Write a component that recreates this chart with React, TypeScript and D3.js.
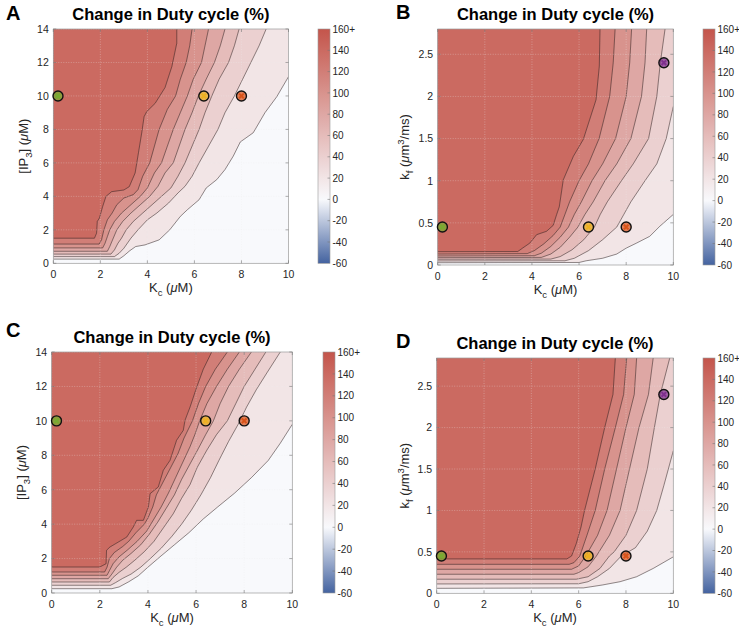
import React from "react";
import * as d3 from "d3";

type Pt = [number, number];

// ---------- shared values ----------
const LEVELS = [20, 40, 60, 80, 100, 120, 140];
const CB_TICKS = [160, 140, 120, 100, 80, 60, 40, 20, 0, -20, -40, -60];
const CB_LABELS = ["160+", "140", "120", "100", "80", "60", "40", "20", "0", "-20", "-40", "-60"];
const CB_MIN = -60;
const CB_MAX = 160;
const KC_TICKS = [0, 2, 4, 6, 8, 10];
const IP3_TICKS = [0, 2, 4, 6, 8, 10, 12, 14];
const KF_TICKS = [0, 0.5, 1, 1.5, 2, 2.5];
const KF_LABELS = ["0", "0.5", "1", "1.5", "2", "2.5"];

const MARKER_COLORS = ["#77ac30", "#edb120", "#d95319", "#7e2f8e"];
const MARK_KC = [0.2, 6.4, 8.0];
const MARK_IP3 = [10, 10, 10];
const MARK_KC_KF = [0.2, 6.4, 8.0, 9.6];
const MARK_KF = [0.45, 0.45, 0.45, 2.4];

// ---------- contour lines, panel A (Kc vs IP3) ----------
const A20: Pt[] = [[0,0.25],[2.8,0.25],[3.0,0.45],[3.25,0.75],[3.5,1.0],[3.9,1.1],[4.5,1.4],[4.95,2.0],[5.4,2.8],[5.7,3.2],[6.2,3.8],[6.5,4.5],[6.95,5.0],[7.3,5.6],[7.65,6.4],[7.95,7.25],[8.5,7.8],[9.0,9.0],[9.5,9.95],[10,11.15]];
const A40: Pt[] = [[0,0.4],[2.6,0.4],[2.8,0.6],[3.0,0.9],[3.3,1.5],[3.6,2.0],[4.0,2.6],[4.4,3.0],[4.9,3.6],[5.3,4.2],[5.6,4.6],[5.9,5.2],[6.2,6.0],[6.6,7.0],[7.0,8.0],[7.3,9.0],[7.7,10.0],[8.05,11.0],[8.4,12.0],[8.75,13.0],[9.05,14]];
const A60: Pt[] = [[0,0.55],[2.45,0.55],[2.6,0.8],[2.75,1.2],[2.9,1.5],[3.1,2.0],[3.4,2.5],[3.8,3.0],[4.2,3.5],[4.6,4.0],[5.0,4.5],[5.3,5.2],[5.6,6.0],[5.9,7.0],[6.2,8.0],[6.45,9.0],[6.74,10.0],[7.05,11.0],[7.45,12.0],[7.7,13.0],[7.9,14]];
const A80: Pt[] = [[0,0.72],[2.3,0.72],[2.4,1.0],[2.55,1.5],[2.7,2.0],[2.95,2.5],[3.3,3.0],[3.7,3.5],[4.1,4.0],[4.45,4.6],[4.75,5.4],[5.1,6.0],[5.35,7.0],[5.6,8.0],[5.9,9.0],[6.17,10.0],[6.5,11.0],[6.85,12.0],[7.1,13.0],[7.3,14]];
const A100: Pt[] = [[0,0.92],[2.1,0.92],[2.2,1.2],[2.3,1.6],[2.4,2.0],[2.6,2.5],[2.9,3.0],[3.3,3.5],[3.7,4.0],[4.0,4.5],[4.3,5.4],[4.6,6.0],[4.85,7.0],[5.1,8.0],[5.4,9.0],[5.7,10.0],[5.95,11.0],[6.3,12.0],[6.45,13.0],[6.6,14]];
const A120: Pt[] = [[0,1.15],[1.95,1.15],[2.05,1.4],[2.15,2.0],[2.3,2.6],[2.5,3.0],[2.7,3.5],[3.0,3.9],[3.4,4.1],[3.6,4.4],[3.8,5.2],[4.1,6.0],[4.3,7.0],[4.5,8.0],[4.85,9.2],[5.2,10.0],[5.4,11.0],[5.65,12.0],[5.8,13.0],[5.9,14]];
const A140: Pt[] = [[0,1.5],[1.75,1.5],[1.84,1.8],[1.87,2.5],[1.96,2.7],[2.1,3.4],[2.24,4.0],[2.48,4.28],[3.0,4.38],[3.23,4.58],[3.48,5.4],[3.62,6.6],[3.76,7.8],[3.86,8.76],[3.97,9.06],[4.33,9.56],[4.75,10.5],[5.04,11.75],[5.25,13.15],[5.25,14]];

// ---------- panel B (Kc vs kf) ----------
const B20: Pt[] = [[0,0.027],[6.0,0.03],[6.3,0.05],[7.0,0.08],[7.6,0.13],[8.0,0.2],[8.44,0.26],[9.0,0.34],[9.43,0.46],[10,0.6]];
const B40: Pt[] = [[0,0.048],[5.4,0.05],[5.8,0.08],[6.4,0.17],[7.0,0.3],[7.6,0.45],[7.9,0.6],[8.2,0.75],[8.8,1.0],[9.3,1.2],[9.7,1.5],[10,1.88]];
const B60: Pt[] = [[0,0.068],[4.8,0.07],[5.2,0.1],[5.7,0.18],[6.2,0.3],[6.65,0.45],[6.9,0.6],[7.2,0.75],[7.8,1.0],[8.3,1.2],[8.95,1.5],[9.3,2.0],[9.45,2.4],[9.65,2.8]];
const B80: Pt[] = [[0,0.087],[4.4,0.09],[4.8,0.13],[5.2,0.21],[5.6,0.33],[5.95,0.45],[6.25,0.6],[6.6,0.75],[7.1,1.0],[7.6,1.2],[8.2,1.5],[8.65,2.0],[8.8,2.4],[8.87,2.8]];
const B100: Pt[] = [[0,0.107],[4.1,0.11],[4.4,0.14],[4.8,0.22],[5.2,0.33],[5.55,0.45],[5.8,0.6],[6.1,0.75],[6.55,1.0],[7.0,1.2],[7.55,1.5],[8.0,2.0],[8.15,2.4],[8.23,2.8]];
const B120: Pt[] = [[0,0.13],[3.8,0.135],[4.1,0.17],[4.5,0.25],[4.9,0.35],[5.2,0.45],[5.4,0.6],[5.6,0.75],[6.0,1.0],[6.4,1.2],[6.85,1.5],[7.3,2.0],[7.45,2.4],[7.53,2.8]];
const B140: Pt[] = [[0,0.158],[3.4,0.16],[3.6,0.2],[3.91,0.26],[4.2,0.36],[4.62,0.4],[4.9,0.47],[5.05,0.6],[5.16,0.69],[5.33,1.01],[5.76,1.29],[6.18,1.49],[6.72,1.96],[6.86,2.36],[6.89,2.8]];

// ---------- panel C (Kc vs IP3) ----------
const C20: Pt[] = [[0,0.25],[2.5,0.25],[2.8,0.35],[3.2,0.65],[3.6,1.0],[4.0,1.5],[4.5,2.1],[5.1,2.8],[5.7,3.5],[6.3,4.3],[6.9,5.0],[7.6,5.8],[8.3,6.7],[9.0,7.7],[9.5,8.7],[10,9.8]];
const C40: Pt[] = [[0,0.45],[2.45,0.45],[2.65,0.6],[2.95,0.85],[3.3,1.1],[3.7,1.5],[4.1,2.0],[4.55,2.6],[5.0,3.3],[5.4,4.0],[5.8,4.8],[6.2,5.7],[6.6,6.7],[6.95,7.7],[7.35,8.8],[7.75,9.8],[8.1,10.8],[8.5,11.8],[8.95,12.8],[9.5,14]];
const C60: Pt[] = [[0,0.64],[2.4,0.64],[2.55,0.9],[2.8,1.2],[3.1,1.5],[3.45,1.9],[3.85,2.4],[4.25,3.0],[4.65,3.8],[5.05,4.6],[5.4,5.5],[5.75,6.3],[6.05,7.3],[6.45,8.3],[6.85,9.2],[7.3,10.0],[7.65,11.0],[8.0,12.0],[8.45,13.0],[8.9,14]];
const C80: Pt[] = [[0,0.83],[2.35,0.83],[2.5,1.1],[2.7,1.5],[2.95,1.9],[3.3,2.3],[3.7,2.8],[4.05,3.4],[4.4,4.1],[4.75,4.9],[5.1,5.7],[5.4,6.6],[5.75,7.5],[6.1,8.4],[6.4,9.2],[6.72,10.0],[7.0,11.0],[7.35,12.0],[7.8,13.0],[8.3,14]];
const C100: Pt[] = [[0,1.03],[2.3,1.03],[2.4,1.3],[2.55,1.7],[2.8,2.1],[3.15,2.5],[3.55,3.0],[3.95,3.6],[4.25,4.3],[4.55,5.0],[4.85,5.8],[5.15,6.7],[5.45,7.6],[5.75,8.5],[5.95,9.2],[6.15,10.0],[6.45,11.0],[6.85,12.0],[7.3,13.0],[7.8,14]];
const C120: Pt[] = [[0,1.22],[2.2,1.22],[2.3,1.5],[2.4,2.0],[2.6,2.35],[2.95,2.7],[3.2,3.0],[3.5,3.5],[3.85,4.0],[4.0,4.35],[4.2,5.0],[4.35,5.7],[4.65,6.5],[4.95,7.3],[5.25,8.1],[5.5,9.0],[5.85,10.0],[6.1,11.0],[6.4,12.0],[6.8,13.0],[7.3,14]];
const C140: Pt[] = [[0,1.51],[2.0,1.51],[2.26,1.7],[2.28,2.48],[2.42,2.67],[3.12,3.25],[3.39,3.83],[3.53,4.22],[3.81,4.22],[4.02,5.0],[4.09,5.77],[4.43,6.16],[4.64,7.13],[4.92,7.71],[5.19,8.87],[5.47,9.45],[5.54,10.03],[5.75,10.8],[6.03,11.97],[6.3,13.0],[6.65,14]];

// ---------- panel D (Kc vs kf) ----------
const D20: Pt[] = [[0,0.06],[6.2,0.065],[7.0,0.1],[7.75,0.14],[8.45,0.2],[9.15,0.3],[10,0.44]];
const D40: Pt[] = [[0,0.113],[6.0,0.115],[6.4,0.14],[6.8,0.2],[7.3,0.3],[7.8,0.45],[8.4,0.55],[8.9,0.75],[9.3,1.0],[9.6,1.3],[10,1.72]];
const D60: Pt[] = [[0,0.17],[5.9,0.17],[6.4,0.2],[6.9,0.3],[7.3,0.45],[7.5,0.5],[8.0,0.7],[8.45,1.0],[8.9,1.5],[9.2,2.0],[9.45,2.4],[9.85,2.84]];
const D80: Pt[] = [[0,0.23],[5.8,0.23],[6.0,0.25],[6.4,0.32],[6.75,0.45],[7.3,0.7],[7.75,1.0],[8.15,1.5],[8.55,2.0],[8.95,2.4],[9.15,2.84]];
const D100: Pt[] = [[0,0.29],[5.7,0.29],[6.0,0.33],[6.3,0.45],[6.8,0.7],[7.2,1.0],[7.6,1.5],[8.0,2.0],[8.35,2.4],[8.45,2.84]];
const D120: Pt[] = [[0,0.35],[5.6,0.35],[5.8,0.37],[6.05,0.45],[6.35,0.7],[6.7,1.0],[7.1,1.5],[7.55,2.0],[7.9,2.4],[8.03,2.84]];
const D140: Pt[] = [[0,0.415],[5.5,0.415],[5.7,0.45],[5.9,0.6],[6.1,0.8],[6.25,1.0],[6.7,1.5],[7.1,2.0],[7.45,2.4],[7.55,2.84]];

const FONT = "'Liberation Sans', Arial, Helvetica, sans-serif";
const TXT = "#262626";

const cmap = d3
  .scaleLinear<string>()
  .domain([-60, 0, 160])
  .range(["#4463a0", "#f8f9fc", "#c4554b"])
  .interpolate(d3.interpolateRgb);

type PanelCfg = {
  id: string;
  letter: string;
  left: number; right: number; top: number; bottom: number;
  yMax: number;
  yTicks: number[];
  yTickLabels: string[];
  yLabel: "ip3" | "kf";
  yLabelX: number;
  titleY: number;
  letterX: number; letterY: number;
  cbX: number;
  lines: Pt[][];
  mx: number[]; my: number[];
};

const PANELS: PanelCfg[] = [
  { id: "A", letter: "A", left: 53.3, right: 288.5, top: 29, bottom: 263.3, yMax: 14,
    yTicks: IP3_TICKS, yTickLabels: IP3_TICKS.map(String), yLabel: "ip3", yLabelX: 28,
    titleY: 20, letterX: 6, letterY: 19.5, cbX: 318,
    lines: [A20, A40, A60, A80, A100, A120, A140], mx: MARK_KC, my: MARK_IP3 },
  { id: "B", letter: "B", left: 437.7, right: 673.3, top: 29, bottom: 265, yMax: 2.8,
    yTicks: KF_TICKS, yTickLabels: KF_LABELS, yLabel: "kf", yLabelX: 409,
    titleY: 20, letterX: 396, letterY: 18.5, cbX: 703,
    lines: [B20, B40, B60, B80, B100, B120, B140], mx: MARK_KC_KF, my: MARK_KF },
  { id: "C", letter: "C", left: 51.7, right: 292.3, top: 352, bottom: 593, yMax: 14,
    yTicks: IP3_TICKS, yTickLabels: IP3_TICKS.map(String), yLabel: "ip3", yLabelX: 26,
    titleY: 342.5, letterX: 6, letterY: 336.5, cbX: 323,
    lines: [C20, C40, C60, C80, C100, C120, C140], mx: MARK_KC, my: MARK_IP3 },
  { id: "D", letter: "D", left: 436.7, right: 673.3, top: 358, bottom: 593.3, yMax: 2.84,
    yTicks: KF_TICKS, yTickLabels: KF_LABELS, yLabel: "kf", yLabelX: 409,
    titleY: 349, letterX: 396, letterY: 348, cbX: 703,
    lines: [D20, D40, D60, D80, D100, D120, D140], mx: MARK_KC_KF, my: MARK_KF },
];

function Panel({ cfg }: { cfg: PanelCfg }) {
  const { left, right, top, bottom, yMax } = cfg;
  const x = d3.scaleLinear().domain([0, 10]).range([left, right]);
  const y = d3.scaleLinear().domain([0, yMax]).range([bottom, top]);
  const lineGen = d3.line<Pt>().x((d) => x(d[0])).y((d) => y(d[1]));
  const clipId = `clip-${cfg.id}`;
  const gradId = `grad-${cfg.id}`;
  const cbY = d3.scaleLinear().domain([CB_MIN, CB_MAX]).range([bottom, top]);
  const cbW = 12;
  const cx = (left + right) / 2;
  const cy = (top + bottom) / 2;

  const polys = cfg.lines.map((pts, i) => {
    const poly: Pt[] = [...pts];
    const last = pts[pts.length - 1];
    if (last[1] < yMax - 1e-9) poly.push([10, yMax]);
    poly.push([0, yMax]);
    return { d: (lineGen(poly) || "") + "Z", color: cmap(LEVELS[i]) };
  });

  const stops = d3.range(CB_MIN, CB_MAX + 1, 10).map((v) => ({
    off: (v - CB_MIN) / (CB_MAX - CB_MIN),
    color: cmap(v),
  }));

  const tickLen = 3;

  return (
    <g>
      <defs>
        <clipPath id={clipId}>
          <rect x={left} y={top} width={right - left} height={bottom - top} />
        </clipPath>
        <linearGradient id={gradId} x1="0" y1="1" x2="0" y2="0">
          {stops.map((s, i) => (
            <stop key={i} offset={s.off} stopColor={s.color} />
          ))}
        </linearGradient>
      </defs>

      <g clipPath={`url(#${clipId})`}>
        <rect x={left} y={top} width={right - left} height={bottom - top} fill={cmap(0)} />
        {polys.map((p, i) => (
          <path key={"f" + i} d={p.d} fill={p.color} stroke={p.color} strokeWidth={0.3} />
        ))}
        {cfg.lines.map((pts, i) => (
          <path key={"l" + i} d={lineGen(pts) || ""} fill="none" stroke="#2a2020" strokeOpacity={0.85} strokeWidth={0.6} />
        ))}
        {KC_TICKS.map((t) => (
          <line key={"gx" + t} x1={x(t)} x2={x(t)} y1={top} y2={bottom} stroke="#ececec" strokeOpacity={0.55} strokeWidth={0.6} strokeDasharray="1,1.5" />
        ))}
        {cfg.yTicks.map((t) => (
          <line key={"gy" + t} x1={left} x2={right} y1={y(t)} y2={y(t)} stroke="#ececec" strokeOpacity={0.55} strokeWidth={0.6} strokeDasharray="1,1.5" />
        ))}
      </g>

      {/* axes box and ticks */}
      <rect x={left} y={top} width={right - left} height={bottom - top} fill="none" stroke="#9a9a9a" strokeWidth={0.7} />
      {KC_TICKS.map((t) => (
        <g key={"tx" + t}>
          <line x1={x(t)} x2={x(t)} y1={bottom} y2={bottom - tickLen} stroke="#777" strokeWidth={0.6} />
          <line x1={x(t)} x2={x(t)} y1={top} y2={top + tickLen} stroke="#777" strokeWidth={0.6} />
          <text x={x(t)} y={bottom + 14.5} textAnchor="middle" fontSize={10.5} fill={TXT} fontFamily={FONT}>
            {t}
          </text>
        </g>
      ))}
      {cfg.yTicks.map((t, i) => (
        <g key={"ty" + t}>
          <line x1={left} x2={left + tickLen} y1={y(t)} y2={y(t)} stroke="#777" strokeWidth={0.6} />
          <line x1={right} x2={right - tickLen} y1={y(t)} y2={y(t)} stroke="#777" strokeWidth={0.6} />
          <text x={left - 4.5} y={y(t) + 3.8} textAnchor="end" fontSize={10.5} fill={TXT} fontFamily={FONT}>
            {cfg.yTickLabels[i]}
          </text>
        </g>
      ))}

      {/* markers */}
      {cfg.mx.map((mx, i) => (
        <g key={"m" + i} transform={`translate(${x(mx)},${y(cfg.my[i])})`}>
          <circle r={5} fill={MARKER_COLORS[i]} fillOpacity={0.7} stroke="#111" strokeWidth={1.4} />
          <path d="M-2.3,-2.3L2.3,2.3M-2.3,2.3L2.3,-2.3" stroke={MARKER_COLORS[i]} strokeWidth={2} />
        </g>
      ))}

      {/* title and letter */}
      <text x={cx} y={cfg.titleY} textAnchor="middle" fontSize={16.5} fontWeight="bold" fill="#000" fontFamily={FONT}>
        Change in Duty cycle (%)
      </text>
      <text x={cfg.letterX} y={cfg.letterY} fontSize={20} fontWeight="bold" fill="#000" fontFamily={FONT}>
        {cfg.letter}
      </text>

      {/* x label */}
      <text x={cx} y={bottom + 29} textAnchor="middle" fontSize={13} fill={TXT} fontFamily={FONT}>
        K<tspan dy={3.5} fontSize={9.5}>c</tspan>
        <tspan dy={-3.5}> (</tspan>
        <tspan fontStyle="italic">μ</tspan>M)
      </text>

      {/* y label */}
      {cfg.yLabel === "ip3" ? (
        <text transform={`translate(${cfg.yLabelX},${cy}) rotate(-90)`} textAnchor="middle" fontSize={13} fill={TXT} fontFamily={FONT}>
          [IP<tspan dy={3.5} fontSize={9.5}>3</tspan>
          <tspan dy={-3.5}>] (</tspan>
          <tspan fontStyle="italic">μ</tspan>M)
        </text>
      ) : (
        <text transform={`translate(${cfg.yLabelX},${cy}) rotate(-90)`} textAnchor="middle" fontSize={13} fill={TXT} fontFamily={FONT}>
          k<tspan dy={3.5} fontSize={9.5}>f</tspan>
          <tspan dy={-3.5}> (</tspan>
          <tspan fontStyle="italic">μ</tspan>m<tspan dy={-5} fontSize={9.5}>3</tspan>
          <tspan dy={5}>/ms)</tspan>
        </text>
      )}

      {/* colorbar */}
      <rect x={cfg.cbX} y={top} width={cbW} height={bottom - top} fill={`url(#${gradId})`} stroke="#9a9a9a" strokeWidth={0.6} />
      {CB_TICKS.map((t, i) => (
        <g key={"cb" + t}>
          {t !== CB_MAX && t !== CB_MIN && (
            <line x1={cfg.cbX + cbW - 2.5} x2={cfg.cbX + cbW} y1={cbY(t)} y2={cbY(t)} stroke="#777" strokeWidth={0.6} />
          )}
          <text x={cfg.cbX + cbW + 2.5} y={cbY(t) + 3.6} fontSize={10} fill={TXT} fontFamily={FONT}>
            {CB_LABELS[i]}
          </text>
        </g>
      ))}
    </g>
  );
}

export default function App() {
  return (
    <svg
      width={739}
      height={632}
      viewBox="0 0 739 632"
      style={{ position: "absolute", left: 0, top: 0, background: "#fff" }}
    >
      <rect x={0} y={0} width={739} height={632} fill="#fff" />
      {PANELS.map((p) => (
        <Panel key={p.id} cfg={p} />
      ))}
    </svg>
  );
}
